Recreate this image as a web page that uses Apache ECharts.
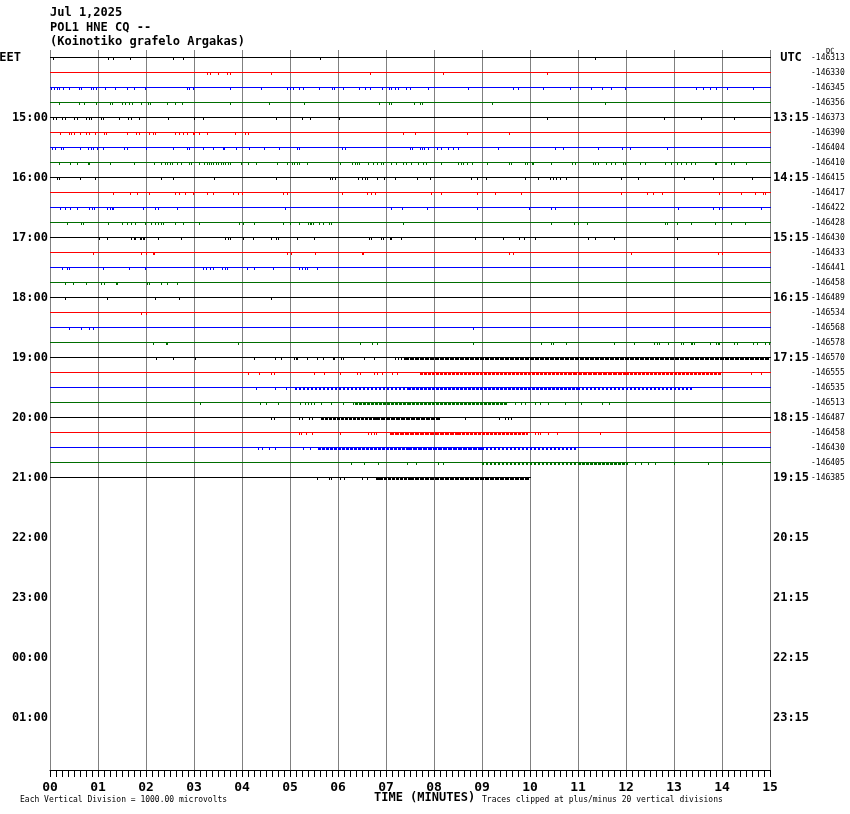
<!DOCTYPE html>
<html><head><meta charset="utf-8">
<script src="https://cdn.jsdelivr.net/npm/echarts@6/dist/echarts.min.js"></script>
<style>html,body{margin:0;padding:0;background:#fff}#c{width:850px;height:814px}</style>
</head><body><div id="c"></div>
<script>
// ---------- data ----------
const titleLines = ['Jul 1,2025', 'POL1 HNE CQ --', '(Koinotiko grafelo Argakas)'];
const xTickLabels = ['00','01','02','03','04','05','06','07','08','09','10','11','12','13','14','15'];
const leftHourLabels = ['EET','15:00','16:00','17:00','18:00','19:00','20:00','21:00','22:00','23:00','00:00','01:00'];
const utcHourLabels = ['UTC','13:15','14:15','15:15','16:15','17:15','18:15','19:15','20:15','21:15','22:15','23:15'];
const rowOffsets = ['-146313','-146330','-146345','-146356','-146373','-146390','-146404','-146410','-146415','-146417',
  '-146422','-146428','-146430','-146433','-146441','-146458','-146489','-146534','-146568','-146578',
  '-146570','-146555','-146535','-146513','-146487','-146458','-146430','-146405','-146385'];
// minute at which each trace ends
const rowEnd = [15,15,15,15,15,15,15,15,15,15,15,15,15,15,15,15,15,15,15,15,15,15,15,15,15,15,15,15,10];
// isolated spikes (minute positions) per trace
const spikes = [
  [0.07,1.21,1.32,1.67,2.57,2.78,5.62,11.36],
  [3.28,3.33,3.49,3.69,3.76,4.60,6.67,8.19,10.36],
  [0.03,0.08,0.14,0.19,0.28,0.40,0.60,0.65,0.85,0.89,0.96,1.14,1.35,1.36,1.60,1.76,1.97,2.86,2.90,2.97,3.76,4.40,4.94,4.99,5.07,5.18,5.28,5.61,5.88,5.92,6.11,6.43,6.57,6.67,6.92,7.06,7.11,7.18,7.24,7.42,7.50,7.88,8.71,9.65,9.75,10.28,10.83,11.28,11.51,11.69,11.97,13.46,13.60,13.75,13.88,14.11,14.65],
  [0.18,0.61,0.71,0.96,1.24,1.29,1.50,1.57,1.64,1.71,1.89,2.04,2.08,2.43,2.60,2.76,3.76,4.57,5.29,6.86,7.07,7.11,7.58,7.71,7.75,9.21,11.57],
  [0.07,0.13,0.24,0.31,0.49,0.56,0.76,0.82,0.86,1.06,1.10,1.44,1.63,1.68,1.86,2.46,3.01,3.19,4.71,5.24,5.42,6.03,10.36,12.79,13.57,14.24],
  [0.21,0.39,0.43,0.49,0.63,0.76,0.82,0.93,1.13,1.17,1.61,1.79,1.85,2.06,2.15,2.18,2.60,2.69,2.78,2.86,2.97,3.00,3.10,3.28,3.86,4.06,4.13,7.36,7.60,8.68,9.56],
  [0.04,0.10,0.22,0.28,0.63,0.79,0.85,0.90,0.97,1.11,1.54,1.60,1.99,2.56,2.86,2.90,3.19,3.40,3.61,3.63,3.88,4.14,4.46,4.78,5.15,5.18,6.08,6.14,7.50,7.54,7.71,7.75,7.80,7.87,8.06,8.15,8.29,8.39,8.50,9.33,10.53,10.69,11.42,11.92,12.08,12.85],
  [0.18,0.42,0.57,0.79,0.82,1.25,1.76,2.17,2.31,2.40,2.44,2.49,2.54,2.64,2.72,2.90,2.94,3.10,3.21,3.28,3.31,3.36,3.40,3.46,3.51,3.56,3.60,3.64,3.71,3.76,3.97,4.13,4.29,4.72,4.93,5.04,5.08,5.14,5.18,5.36,6.04,6.29,6.35,6.40,6.44,6.63,6.72,6.81,6.89,6.93,7.11,7.21,7.35,7.42,7.53,7.67,7.78,7.83,8.15,8.51,8.56,8.61,8.69,8.79,9.11,9.56,9.60,9.89,9.93,10.04,10.07,10.43,10.87,10.93,11.32,11.35,11.42,11.58,11.69,11.78,11.93,11.97,12.30,12.39,12.82,12.94,13.07,13.15,13.26,13.36,13.44,13.85,13.88,14.18,14.25,14.51],
  [0.14,0.19,0.63,0.94,2.31,2.57,3.42,4.71,5.83,5.88,5.94,6.42,6.50,6.56,6.61,6.81,6.96,7.19,7.65,7.92,8.78,8.90,9.08,9.90,10.17,10.42,10.47,10.54,10.63,10.75,11.89,12.25,13.21,13.82,14.62],
  [1.32,1.67,1.82,2.07,2.60,2.69,2.82,2.97,3.28,3.39,3.82,3.92,3.99,4.86,4.94,6.08,6.60,6.68,6.78,7.94,8.14,8.89,9.28,9.82,11.89,12.44,12.57,12.74,13.93,14.40,14.68,14.85,14.89],
  [0.21,0.32,0.42,0.56,0.82,0.88,0.92,1.19,1.26,1.29,1.32,1.94,2.19,2.25,2.65,4.90,7.11,7.33,7.86,8.89,9.97,10.43,10.53,13.08,13.82,13.93,13.99,14.81],
  [0.36,0.65,0.68,0.69,1.21,1.50,1.61,1.69,1.78,1.97,2.11,2.18,2.25,2.31,2.35,2.60,2.78,3.10,3.93,4.03,4.24,4.85,5.00,5.18,5.38,5.42,5.44,5.47,5.60,5.68,5.82,5.85,7.36,10.44,10.92,10.99,11.18,12.81,12.85,13.07,13.35,13.85,14.18,14.47],
  [1.03,1.18,1.69,1.74,1.78,1.88,1.90,1.93,1.96,2.26,2.72,3.64,3.71,3.76,4.03,4.22,4.60,4.71,4.76,5.15,5.49,6.64,6.69,6.90,6.93,7.08,7.11,7.32,8.86,9.44,9.78,9.88,10.10,11.21,11.36,11.76,13.06],
  [0.89,1.90,2.00,2.15,2.17,4.94,5.03,5.53,6.51,6.53,9.57,9.64,12.10,13.92,13.99],
  [0.24,0.36,0.40,1.10,1.64,1.97,3.18,3.26,3.33,3.40,3.58,3.64,3.68,4.11,4.26,4.64,5.18,5.26,5.32,5.36,5.56],
  [0.32,0.47,0.76,1.07,1.13,1.38,1.40,2.03,2.07,2.32,2.44,2.65],
  [0.31,1.18,2.19,2.69,4.60],
  [1.89,1.99],
  [0.40,0.64,0.82,0.89,8.82],
  [2.14,2.42,2.43,3.92,6.46,6.71,6.81,8.82,10.22,10.44,10.47,10.75,11.74,12.17,12.58,12.64,12.68,12.87,13.15,13.18,13.35,13.37,13.42,13.74,13.88,13.92,13.94,14.25,14.32,14.65,14.72,14.90,14.97],
  [2.21,2.56,3.03,4.24,4.26,4.69,4.82,5.08,5.13,5.15,5.36,5.56,5.69,5.90,5.92,6.07,6.11,6.54,6.75,7.19,7.24,7.32,7.38],
  [4.13,4.36,4.61,4.67,5.50,5.71,6.04,6.40,6.46,6.75,6.81,6.92,7.13,7.22,14.61,14.82],
  [4.29,4.68,4.92,13.99],
  [3.13,4.38,4.51,4.75,5.21,5.32,5.38,5.43,5.51,5.65,5.86,6.11,6.31,9.68,9.81,9.89,10.10,10.21,10.37,10.72,11.07,11.49,11.65],
  [4.60,4.67,5.19,5.24,5.40,5.46,8.65,9.36,9.47,9.54,9.61],
  [5.19,5.22,5.33,5.46,6.04,6.63,6.68,6.74,6.79,10.10,10.17,10.21,10.37,10.56,11.46],
  [4.33,4.42,4.56,4.69,5.28,5.42],
  [6.28,6.54,6.83,7.43,7.62,8.08,8.19,12.18,12.32,12.46,12.60,13.01,13.71,13.99],
  [5.56,5.81,5.85,6.04,6.13,6.50,6.60,6.86,6.97]
];
// busy stretches: [start minute, end minute, fill fraction] per trace
const dense = [
  [],[],[],[],[],[],[],[],[],[],[],[],[],[],[],[],[],[],[],[],
  [[7.4,15,0.9]],
  [[7.7,10.8,0.6],[10.8,12.0,0.95],[12.0,14.0,0.6]],
  [[5.1,7.46,0.5],[7.46,11.0,0.8],[11.0,13.4,0.5]],
  [[6.35,7.46,0.7],[7.46,9.55,0.6]],
  [[5.64,6.8,0.6],[6.8,8.15,0.9]],
  [[7.08,8.5,0.9],[8.5,9.96,0.7]],
  [[5.58,7.46,0.6],[7.46,9.0,0.9],[9.0,10.95,0.5]],
  [[8.99,11.0,0.5],[11.0,12.05,0.8]],
  [[6.8,7.5,0.6],[7.5,10.0,0.95]]
];

// ---------- build ----------
const NROWS = 48;
const traceColors = ['#000000','#ff0000','#0000ff','#006e00'];
const leftCats = [], rightCats = [];
for (let i = 0; i < NROWS; i++) {
  leftCats.push(i % 4 === 0 ? leftHourLabels[i / 4] : '');
  const t = i % 4 === 0 ? utcHourLabels[i / 4] : '';
  const n = i < rowOffsets.length ? rowOffsets[i] : '';
  rightCats.push(t + '|' + n);
}
const lineData = rowEnd.map((e, i) => [i, e]);
const spikeData = [];
spikes.forEach((arr, r) => arr.forEach(m => spikeData.push([m, r])));
const denseData = [];
dense.forEach((arr, r) => arr.forEach(d => denseData.push([d[0], d[1], r, d[2]])));

const mono = "'DejaVu Sans Mono', 'Liberation Mono', monospace";
const chart = echarts.init(document.getElementById('c'), null, {renderer: 'canvas'});
chart.setOption({
  animation: false,
  backgroundColor: '#ffffff',
  grid: {left: 50, top: 50, width: 720, height: 720, containLabel: false, outerBoundsMode: 'none'},
  xAxis: {
    type: 'value', min: 0, max: 15, interval: 1,
    axisLine: {show: true, lineStyle: {color: '#000', width: 1}},
    axisTick: {show: true, length: 7, lineStyle: {color: '#000'}},
    minorTick: {show: true, splitNumber: 8, length: 7, lineStyle: {color: '#000'}},
    splitLine: {show: true, lineStyle: {color: '#808080', width: 1}},
    axisLabel: {formatter: v => xTickLabels[v], color: '#000', fontFamily: mono, fontWeight: 'bold', fontSize: 13, margin: 11}
  },
  yAxis: [{
    type: 'category', data: leftCats, inverse: true, position: 'left',
    axisLine: {show: false}, axisTick: {show: false}, splitLine: {show: false},
    axisLabel: {interval: 0, margin: 2, fontFamily: mono, fontWeight: 'bold', fontSize: 12, color: '#000',
      formatter: v => v === 'EET' ? '{e|EET}' : v,
      rich: {e: {fontFamily: mono, fontWeight: 'bold', fontSize: 12, color: '#000', padding: [0, 27, 0, 0]}}}
  }, {
    type: 'category', data: rightCats, inverse: true, position: 'right',
    axisLine: {show: false}, axisTick: {show: false}, splitLine: {show: false},
    axisLabel: {interval: 0, margin: 4,
      formatter: v => { const p = v.split('|'); return '{t|' + p[0] + '}{n|' + p[1] + '}'; },
      rich: {
        t: {width: 34, align: 'right', fontFamily: mono, fontWeight: 'bold', fontSize: 12, color: '#000'},
        n: {padding: [0, 0, 0, 3], fontFamily: mono, fontSize: 8, color: '#000'}
      }}
  }],
  series: [{
    type: 'custom', name: 'traces', xAxisIndex: 0, yAxisIndex: 0,
    encode: {x: 1, y: 0},
    data: lineData,
    renderItem: (params, api) => {
      const r = api.value(0), e = api.value(1);
      const p0 = api.coord([0, r]), p1 = api.coord([e, r]);
      return {type: 'rect', shape: {x: p0[0], y: Math.floor(p0[1]), width: p1[0] - p0[0] + 1, height: 1},
        style: {fill: traceColors[r % 4]}};
    }
  }, {
    type: 'custom', name: 'busy', xAxisIndex: 0, yAxisIndex: 0,
    encode: {x: [0, 1], y: 2},
    data: denseData,
    renderItem: (params, api) => {
      const s = api.value(0), e = api.value(1), r = api.value(2), f = api.value(3);
      const p0 = api.coord([s, r]), p1 = api.coord([e, r]);
      const y = Math.floor(p0[1]) + 2;
      const dash = f >= 0.9 ? [4, 1] : (f > 0.5 ? [3, 1] : [2, 2]);
      return {type: 'line', shape: {x1: Math.round(p0[0]), y1: y, x2: Math.round(p1[0]), y2: y},
        style: {stroke: traceColors[r % 4], lineWidth: 2, lineDash: dash}};
    }
  }, {
    type: 'custom', name: 'spikes', xAxisIndex: 0, yAxisIndex: 0,
    encode: {x: 0, y: 1},
    data: spikeData,
    renderItem: (params, api) => {
      const m = api.value(0), r = api.value(1);
      const p = api.coord([m, r]);
      return {type: 'rect', shape: {x: Math.round(p[0]), y: Math.floor(p[1]) + 1, width: 1, height: 2},
        style: {fill: traceColors[r % 4]}};
    }
  }],
  graphic: [
    {type: 'text', left: 50, top: 7, style: {text: titleLines[0], font: 'bold 12px ' + mono, fill: '#000'}},
    {type: 'text', left: 50, top: 22, style: {text: titleLines[1], font: 'bold 12px ' + mono, fill: '#000'}},
    {type: 'text', left: 50, top: 36, style: {text: titleLines[2], font: 'bold 12px ' + mono, fill: '#000'}},
    {type: 'text', left: 826, top: 48, style: {text: 'DC', font: '7px ' + mono, fill: '#000'}},
    {type: 'text', left: 20, top: 796, style: {text: 'Each Vertical Division = 1000.00 microvolts', font: '8px ' + mono, fill: '#000'}},
    {type: 'text', left: 374, top: 792, style: {text: 'TIME (MINUTES)', font: 'bold 12px ' + mono, fill: '#000'}},
    {type: 'text', left: 482, top: 796, style: {text: 'Traces clipped at plus/minus 20 vertical divisions', font: '8px ' + mono, fill: '#000'}}
  ]
});
</script></body></html>
